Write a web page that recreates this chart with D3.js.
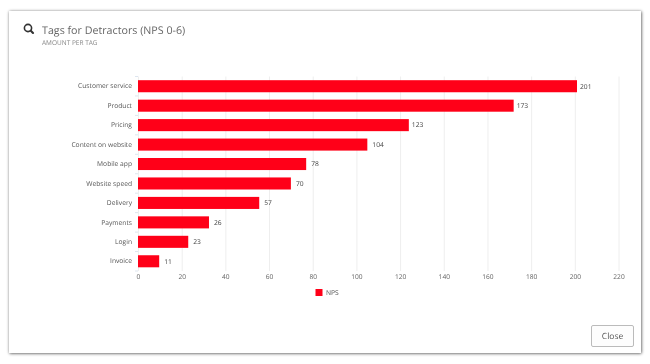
<!DOCTYPE html>
<html>
<head>
<meta charset="utf-8">
<script src="https://cdnjs.cloudflare.com/ajax/libs/d3/7.8.5/d3.min.js"></script>
<style>
html, body { margin: 0; padding: 0; background: #fff; }
body { width: 650px; height: 364px; overflow: hidden; }
svg { opacity: 0.999; }
text { font-family: "Open Sans", sans-serif; text-rendering: geometricPrecision; }
</style>
</head>
<body>
<div id="chart"></div>
<script>
const categories = ['Customer service', 'Product', 'Pricing', 'Content on website', 'Mobile app',
    'Website speed', 'Delivery', 'Payments', 'Login', 'Invoice'];
// bar lengths as drawn, they do not always agree with the printed labels
const barValues = [201, 172, 124, 105, 77, 70, 55.5, 32.5, 23, 9.7];
const barLabels = [201, 173, 123, 104, 78, 70, 57, 26, 23, 11];
const xTicks = [0, 20, 40, 60, 80, 100, 120, 140, 160, 180, 200, 220];
const seriesName = 'NPS';

const WIDTH = 650;
const HEIGHT = 364;
const translate = (x, y) => (`translate(${x}, ${y})`);

const svg = d3.select('#chart').append('svg')
    .attr('width', WIDTH)
    .attr('height', HEIGHT);

const defs = svg.append('defs');
const blur = defs.append('filter').attr('id', 'shadow')
    .attr('x', '-5%').attr('y', '-5%').attr('width', '110%').attr('height', '110%');
blur.append('feDropShadow')
    .attr('dx', 0.5).attr('dy', 0.5)
    .attr('stdDeviation', 1.5)
    .attr('flood-color', '#000')
    .attr('flood-opacity', 0.7);

// modal box
svg.append('rect')
    .attr('x', 9).attr('y', 11)
    .attr('width', 632).attr('height', 342)
    .attr('fill', '#fff')
    .attr('filter', 'url(#shadow)');

// search icon
const icon = svg.append('g')
    .attr('fill', 'none')
    .attr('stroke', '#333');
icon.append('circle').attr('cx', 28).attr('cy', 28).attr('r', 3.6).attr('stroke-width', 1.6);
icon.append('line').attr('x1', 30.8).attr('y1', 30.8).attr('x2', 33).attr('y2', 33)
    .attr('stroke-width', 2.1).attr('stroke-linecap', 'round');

svg.append('text').attr('x', 42).attr('y', 33.5)
    .attr('font-size', 10.7).attr('fill', '#666')
    .text('Tags for Detractors (NPS 0-6)');
svg.append('text').attr('x', 42).attr('y', 44.5)
    .attr('font-size', 6.5).attr('fill', '#888')
    .text('AMOUNT PER TAG');

const xScale = d3.scaleLinear().domain([0, 220]).range([138, 618.5]);
const yScale = d3.scaleBand().domain(categories).range([76.5, 271]).paddingInner(0.38).paddingOuter(0.19);

const xAxis = d3.axisBottom(xScale).tickValues(xTicks).tickSize(0).tickPadding(3);
const yAxis = d3.axisLeft(yScale).tickSize(0).tickPadding(6);

const gx = svg.append('g').attr('transform', translate(0, 271)).call(xAxis);
gx.select('.domain').remove();
gx.selectAll('.tick text').attr('font-size', 6.6).attr('fill', '#666').attr('font-family', '"Open Sans", sans-serif');
gx.selectAll('.tick').append('line')
    .attr('y1', 0).attr('y2', -194.5)
    .attr('stroke', '#eee');

const gy = svg.append('g').attr('transform', translate(138, 0)).call(yAxis);
gy.select('.domain').remove();
gy.selectAll('.tick text').attr('font-size', 6.7).attr('fill', '#555').attr('font-family', '"Open Sans", sans-serif');

// small category separators left of the bars
svg.selectAll('.band-tick')
    .data(yScale.domain().concat(['end']))
    .enter()
    .append('line')
    .classed('band-tick', true)
    .attr('x1', 135).attr('x2', 138)
    .attr('y1', (d, i) => 76.5 + i * yScale.step())
    .attr('y2', (d, i) => 76.5 + i * yScale.step())
    .attr('stroke', '#dde5ef');

svg.selectAll('.bar')
    .data(categories)
    .enter()
    .append('rect')
    .classed('bar', true)
    .attr('x', xScale(0))
    .attr('y', d => yScale(d))
    .attr('width', (d, i) => xScale(barValues[i]) - xScale(0))
    .attr('height', yScale.bandwidth())
    .attr('fill', '#ff0018');

svg.selectAll('.bar-label')
    .data(categories)
    .enter()
    .append('text')
    .classed('bar-label', true)
    .attr('x', (d, i) => xScale(barValues[i]) + (barValues[i] > 110 ? 3 : 5))
    .attr('y', d => yScale(d) + yScale.bandwidth() / 2)
    .attr('dy', '0.35em')
    .attr('font-size', 6.7)
    .attr('fill', '#444')
    .text((d, i) => barLabels[i]);

// legend
svg.append('rect').attr('x', 315.5).attr('y', 289).attr('width', 7).attr('height', 7).attr('fill', '#ff0018');
svg.append('text').attr('x', 326).attr('y', 295)
    .attr('font-size', 6.7).attr('fill', '#555')
    .text(seriesName);

// close button
svg.append('rect')
    .attr('x', 591.5).attr('y', 325.5)
    .attr('width', 42).attr('height', 21)
    .attr('rx', 1.5)
    .attr('fill', '#fdfdfd')
    .attr('stroke', '#bbb');
svg.append('text').attr('x', 612.5).attr('y', 339)
    .attr('text-anchor', 'middle')
    .attr('font-size', 8.5).attr('fill', '#555')
    .text('Close');
</script>
</body>
</html>
